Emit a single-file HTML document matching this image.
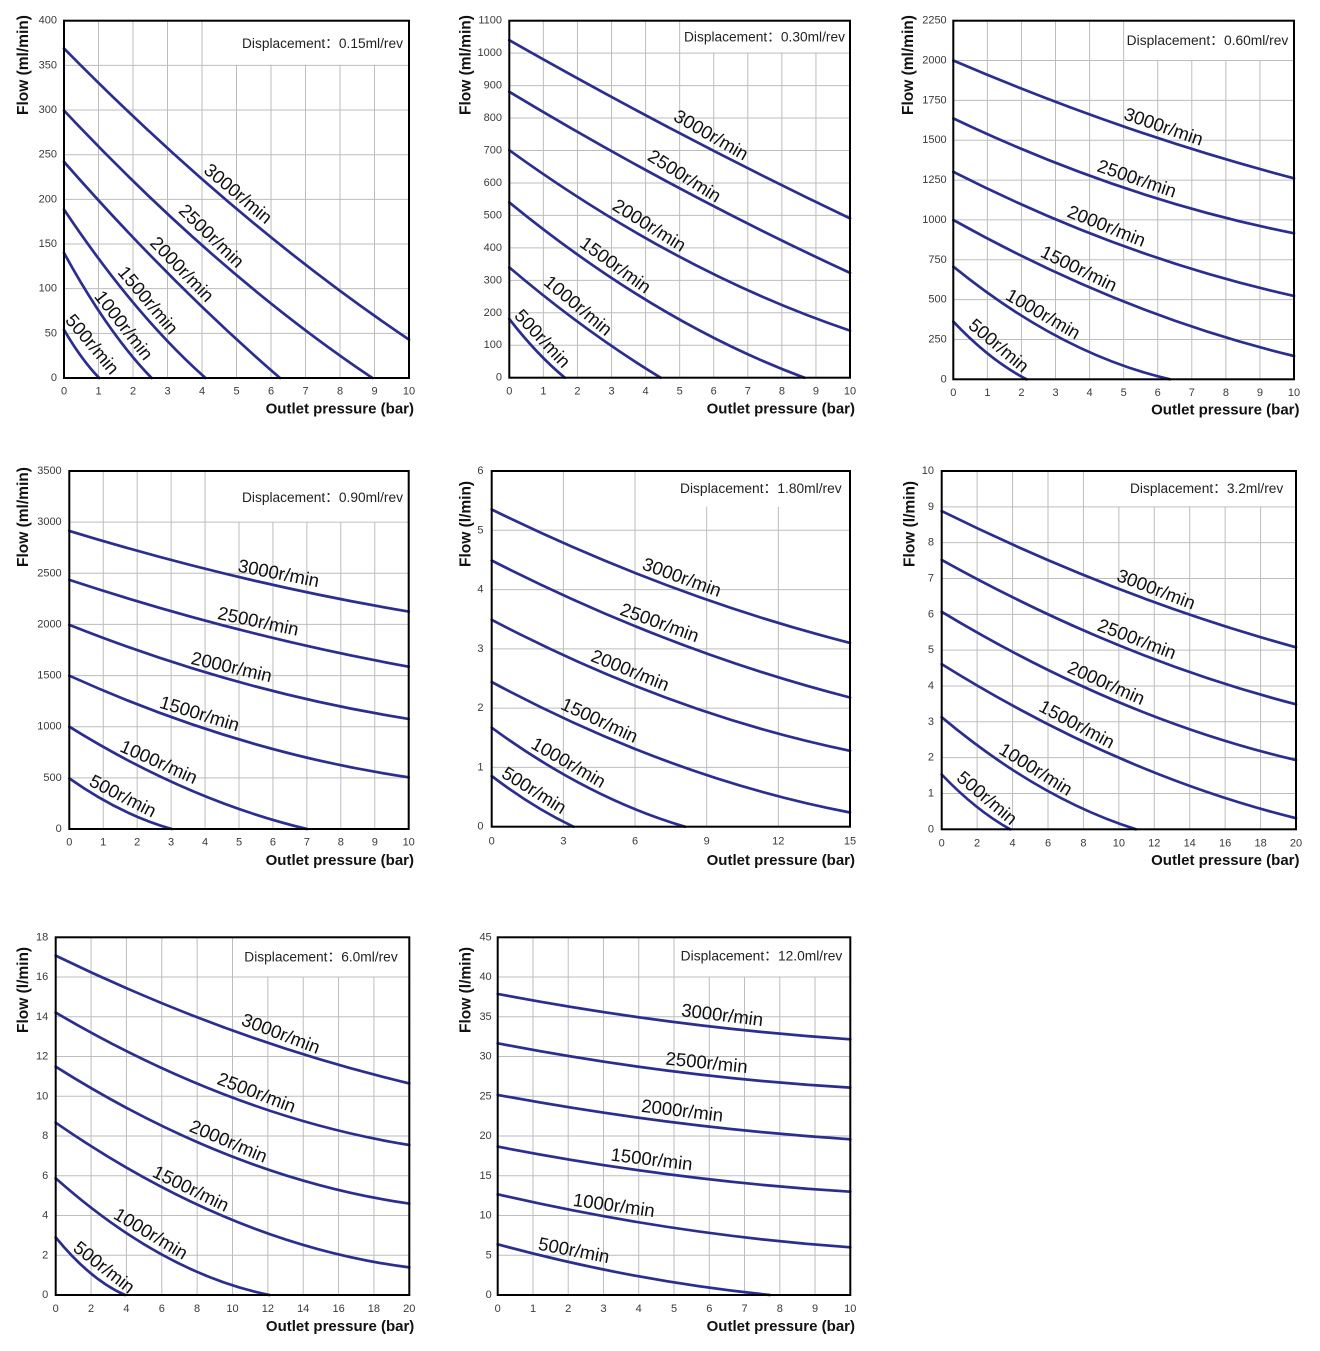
<!DOCTYPE html>
<html><head><meta charset="utf-8"><style>
html,body{margin:0;padding:0;background:#fff;}
svg{display:block;}
.g{fill:none;stroke:#bdbdbd;stroke-width:1;vector-effect:non-scaling-stroke;}
.c{fill:none;stroke:#2b2e8e;stroke-width:2.7;stroke-linecap:round;}
.b{fill:none;stroke:#000;stroke-width:2;}
.w{fill:#fff;stroke:none;}
.ty{font-family:"Liberation Sans",sans-serif;font-size:11px;fill:#3a3a3a;text-anchor:end;dominant-baseline:central;}
.tx{font-family:"Liberation Sans",sans-serif;font-size:11px;fill:#3a3a3a;text-anchor:middle;dominant-baseline:central;}
.xl{font-family:"Liberation Sans",sans-serif;font-size:15px;font-weight:bold;fill:#111;text-anchor:end;}
.yl{font-family:"Liberation Sans",sans-serif;font-size:15.5px;font-weight:bold;fill:#111;text-anchor:start;}
.d{font-family:"Liberation Sans","Noto Sans CJK SC",sans-serif;font-size:13.5px;fill:#222;text-anchor:end;}
.l{font-family:"Liberation Sans",sans-serif;font-size:18.5px;fill:#111;text-anchor:middle;dominant-baseline:central;}
</style></head><body>
<svg width="1320" height="1351" viewBox="0 0 1320 1351" xmlns="http://www.w3.org/2000/svg">
<rect width="1320" height="1351" fill="#fff"/>

<!-- ================= Chart 1 ================= -->
<g transform="translate(64,378) scale(34.5,-0.89325)">
<path class="g" d="M1 0V400M2 0V400M3 0V400M4 0V400M5 0V400M6 0V400M7 0V400M8 0V400M9 0V400"/>
<path class="g" d="M0 50H10M0 100H10M0 150H10M0 200H10M0 250H10M0 300H10M0 350H10"/>
</g>
<rect class="w" x="233" y="21.7" width="175.3" height="42.9"/>
<path class="c" d="M64 48.4Q236.5 223.6 409 339.6"/>
<path class="c" d="M64 110.5Q218.2 274.7 372.4 378"/>
<path class="c" d="M64 161.8Q172 284.9 280 378"/>
<path class="c" d="M64 209.5Q134.75 315.2 205.5 378"/>
<path class="c" d="M64 252.9Q107.8 332.9 151.6 378"/>
<path class="c" d="M64 329.8Q81.6 359.9 99.2 378"/>
<rect class="b" x="64" y="20.7" width="345" height="357.3"/>
<text class="ty" x="57" y="378">0</text><text class="ty" x="57" y="333.3">50</text><text class="ty" x="57" y="288.7">100</text><text class="ty" x="57" y="244">150</text><text class="ty" x="57" y="199.4">200</text><text class="ty" x="57" y="154.7">250</text><text class="ty" x="57" y="110">300</text><text class="ty" x="57" y="65.4">350</text><text class="ty" x="57" y="20.7">400</text>
<text class="tx" x="64" y="391.7">0</text><text class="tx" x="98.5" y="391.7">1</text><text class="tx" x="133" y="391.7">2</text><text class="tx" x="167.5" y="391.7">3</text><text class="tx" x="202" y="391.7">4</text><text class="tx" x="236.5" y="391.7">5</text><text class="tx" x="271" y="391.7">6</text><text class="tx" x="305.5" y="391.7">7</text><text class="tx" x="340" y="391.7">8</text><text class="tx" x="374.5" y="391.7">9</text><text class="tx" x="409" y="391.7">10</text>
<text class="xl" x="414" y="413.3">Outlet pressure (bar)</text>
<text class="yl" transform="translate(28,115) rotate(-90)">Flow (ml/min)</text>
<text class="d" x="403" y="48" textLength="161" lengthAdjust="spacingAndGlyphs">Displacement：0.15ml/rev</text>
<text class="l" transform="translate(238.3,193.3) rotate(40)">3000r/min</text>
<text class="l" transform="translate(211.7,235.7) rotate(44)">2500r/min</text>
<text class="l" transform="translate(182.3,269) rotate(46)">2000r/min</text>
<text class="l" transform="translate(148.3,300) rotate(50)">1500r/min</text>
<text class="l" transform="translate(124,325) rotate(52)">1000r/min</text>
<text class="l" transform="translate(92.5,344) rotate(50)">500r/min</text>

<!-- ================= Chart 2 ================= -->
<g transform="translate(509.3,377.7) scale(34.07,-0.32455)">
<path class="g" d="M1 0V1100M2 0V1100M3 0V1100M4 0V1100M5 0V1100M6 0V1100M7 0V1100M8 0V1100M9 0V1100"/>
<path class="g" d="M0 100H10M0 200H10M0 300H10M0 400H10M0 500H10M0 600H10M0 700H10M0 800H10M0 900H10M0 1000H10"/>
</g>
<rect class="w" x="682" y="21.7" width="167.3" height="30.8"/>
<path class="c" d="M509.3 40.2Q679.65 137.1 850 218.4"/>
<path class="c" d="M509.3 91.8Q679.65 194.35 850 272.9"/>
<path class="c" d="M509.3 150.2Q679.65 273.2 850 330.6"/>
<path class="c" d="M509.3 202.4Q656.8 322.85 804.3 377.7"/>
<path class="c" d="M509.3 267.4Q584.95 331.75 660.6 377.7"/>
<path class="c" d="M509.3 319Q537.05 354.75 564.8 377.7"/>
<rect class="b" x="509.3" y="20.7" width="340.7" height="357"/>
<text class="ty" x="502" y="377.7">0</text><text class="ty" x="502" y="345.2">100</text><text class="ty" x="502" y="312.8">200</text><text class="ty" x="502" y="280.3">300</text><text class="ty" x="502" y="247.9">400</text><text class="ty" x="502" y="215.4">500</text><text class="ty" x="502" y="183">600</text><text class="ty" x="502" y="150.5">700</text><text class="ty" x="502" y="118.1">800</text><text class="ty" x="502" y="85.6">900</text><text class="ty" x="502" y="53.2">1000</text><text class="ty" x="502" y="20.7">1100</text>
<text class="tx" x="509.3" y="391.7">0</text><text class="tx" x="543.4" y="391.7">1</text><text class="tx" x="577.4" y="391.7">2</text><text class="tx" x="611.5" y="391.7">3</text><text class="tx" x="645.6" y="391.7">4</text><text class="tx" x="679.7" y="391.7">5</text><text class="tx" x="713.7" y="391.7">6</text><text class="tx" x="747.8" y="391.7">7</text><text class="tx" x="781.9" y="391.7">8</text><text class="tx" x="815.9" y="391.7">9</text><text class="tx" x="850" y="391.7">10</text>
<text class="xl" x="855" y="413.3">Outlet pressure (bar)</text>
<text class="yl" transform="translate(470.5,115) rotate(-90)">Flow (ml/min)</text>
<text class="d" x="845" y="41.5" textLength="161" lengthAdjust="spacingAndGlyphs">Displacement：0.30ml/rev</text>
<text class="l" transform="translate(711.3,134.7) rotate(30)">3000r/min</text>
<text class="l" transform="translate(684.7,175.7) rotate(32)">2500r/min</text>
<text class="l" transform="translate(649.5,225) rotate(32)">2000r/min</text>
<text class="l" transform="translate(615.7,264.7) rotate(36)">1500r/min</text>
<text class="l" transform="translate(578.3,305.3) rotate(40)">1000r/min</text>
<text class="l" transform="translate(542.7,338.3) rotate(47)">500r/min</text>

<!-- ================= Chart 3 ================= -->
<g transform="translate(953.3,379.3) scale(34.07,-0.15938)">
<path class="g" d="M1 0V2250M2 0V2250M3 0V2250M4 0V2250M5 0V2250M6 0V2250M7 0V2250M8 0V2250M9 0V2250"/>
<path class="g" d="M0 250H10M0 500H10M0 750H10M0 1000H10M0 1250H10M0 1500H10M0 1750H10M0 2000H10"/>
</g>
<rect class="w" x="1125" y="21.7" width="168.3" height="38.3"/>
<path class="c" d="M953.3 60.5Q1123.65 133.6 1294 178.3"/>
<path class="c" d="M953.3 118.4Q1123.65 199.45 1294 233.3"/>
<path class="c" d="M953.3 171.8Q1123.65 258.25 1294 295.9"/>
<path class="c" d="M953.3 219.9Q1123.65 315.15 1294 356"/>
<path class="c" d="M953.3 266.6Q1061.65 354.55 1170 379.3"/>
<path class="c" d="M953.3 321.6Q989.95 360.45 1026.6 379.3"/>
<rect class="b" x="953.3" y="20.7" width="340.7" height="358.6"/>
<text class="ty" x="946.7" y="379.3">0</text><text class="ty" x="946.7" y="339.5">250</text><text class="ty" x="946.7" y="299.6">500</text><text class="ty" x="946.7" y="259.8">750</text><text class="ty" x="946.7" y="219.9">1000</text><text class="ty" x="946.7" y="180.1">1250</text><text class="ty" x="946.7" y="140.2">1500</text><text class="ty" x="946.7" y="100.4">1750</text><text class="ty" x="946.7" y="60.5">2000</text><text class="ty" x="946.7" y="20.7">2250</text>
<text class="tx" x="953.3" y="393">0</text><text class="tx" x="987.4" y="393">1</text><text class="tx" x="1021.4" y="393">2</text><text class="tx" x="1055.5" y="393">3</text><text class="tx" x="1089.6" y="393">4</text><text class="tx" x="1123.7" y="393">5</text><text class="tx" x="1157.7" y="393">6</text><text class="tx" x="1191.8" y="393">7</text><text class="tx" x="1225.9" y="393">8</text><text class="tx" x="1259.9" y="393">9</text><text class="tx" x="1294" y="393">10</text>
<text class="xl" x="1299.5" y="414.5">Outlet pressure (bar)</text>
<text class="yl" transform="translate(913,115) rotate(-90)">Flow (ml/min)</text>
<text class="d" x="1288.3" y="44.8" textLength="161.6" lengthAdjust="spacingAndGlyphs">Displacement：0.60ml/rev</text>
<text class="l" transform="translate(1163.7,126.3) rotate(19)">3000r/min</text>
<text class="l" transform="translate(1137,178.3) rotate(19)">2500r/min</text>
<text class="l" transform="translate(1106.7,225.7) rotate(22)">2000r/min</text>
<text class="l" transform="translate(1079,268.3) rotate(26)">1500r/min</text>
<text class="l" transform="translate(1043.3,313.7) rotate(30)">1000r/min</text>
<text class="l" transform="translate(999,345.3) rotate(40)">500r/min</text>

<!-- ================= Chart 4 ================= -->
<g transform="translate(69.3,829) scale(33.94,-0.102286)">
<path class="g" d="M1 0V3500M2 0V3500M3 0V3500M4 0V3500M5 0V3500M6 0V3500M7 0V3500M8 0V3500M9 0V3500"/>
<path class="g" d="M0 500H10M0 1000H10M0 1500H10M0 2000H10M0 2500H10M0 3000H10"/>
</g>
<rect class="w" x="237" y="472" width="170.7" height="49.6"/>
<path class="c" d="M69.3 530.9Q239 582.85 408.7 611.6"/>
<path class="c" d="M69.3 579.9Q239 635.7 408.7 666.7"/>
<path class="c" d="M69.3 624.9Q239 692.1 408.7 718.9"/>
<path class="c" d="M69.3 675.7Q239 752.3 408.7 777.3"/>
<path class="c" d="M69.3 726.7Q188.1 800.45 306.9 829"/>
<path class="c" d="M69.3 778.4Q120.55 814.5 171.8 829"/>
<rect class="b" x="69.3" y="471" width="339.4" height="358"/>
<text class="ty" x="61.7" y="829">0</text><text class="ty" x="61.7" y="777.9">500</text><text class="ty" x="61.7" y="726.7">1000</text><text class="ty" x="61.7" y="675.6">1500</text><text class="ty" x="61.7" y="624.4">2000</text><text class="ty" x="61.7" y="573.3">2500</text><text class="ty" x="61.7" y="522.1">3000</text><text class="ty" x="61.7" y="471">3500</text>
<text class="tx" x="69.3" y="842.7">0</text><text class="tx" x="103.2" y="842.7">1</text><text class="tx" x="137.2" y="842.7">2</text><text class="tx" x="171.1" y="842.7">3</text><text class="tx" x="205.1" y="842.7">4</text><text class="tx" x="239" y="842.7">5</text><text class="tx" x="272.9" y="842.7">6</text><text class="tx" x="306.9" y="842.7">7</text><text class="tx" x="340.8" y="842.7">8</text><text class="tx" x="374.8" y="842.7">9</text><text class="tx" x="408.7" y="842.7">10</text>
<text class="xl" x="414" y="865">Outlet pressure (bar)</text>
<text class="yl" transform="translate(28,567) rotate(-90)">Flow (ml/min)</text>
<text class="d" x="403" y="502" textLength="161" lengthAdjust="spacingAndGlyphs">Displacement：0.90ml/rev</text>
<text class="l" transform="translate(278.7,573) rotate(11)">3000r/min</text>
<text class="l" transform="translate(258.3,621) rotate(12)">2500r/min</text>
<text class="l" transform="translate(231.7,666.7) rotate(13)">2000r/min</text>
<text class="l" transform="translate(199.7,713.3) rotate(17)">1500r/min</text>
<text class="l" transform="translate(159,761.7) rotate(24)">1000r/min</text>
<text class="l" transform="translate(123,795.7) rotate(27)">500r/min</text>

<!-- ================= Chart 5 ================= -->
<g transform="translate(491.7,826.7) scale(23.887,-59.283)">
<path class="g" d="M3 0V6M6 0V6M9 0V6M12 0V6"/>
<path class="g" d="M0 1H15M0 2H15M0 3H15M0 4H15M0 5H15"/>
</g>
<rect class="w" x="672" y="472" width="177" height="34.7"/>
<path class="c" d="M491.7 509.5Q670.85 597.2 850 642.9"/>
<path class="c" d="M491.7 560.5Q670.85 651.6 850 697.5"/>
<path class="c" d="M491.7 619.8Q670.85 713.7 850 750.8"/>
<path class="c" d="M491.7 682Q670.85 778.05 850 812.5"/>
<path class="c" d="M491.7 727.7Q588.3 798.2 684.9 826.7"/>
<path class="c" d="M491.7 776Q532.55 807.15 573.4 826.7"/>
<rect class="b" x="491.7" y="471" width="358.3" height="355.7"/>
<text class="ty" x="483.5" y="826.7">0</text><text class="ty" x="483.5" y="767.4">1</text><text class="ty" x="483.5" y="708.1">2</text><text class="ty" x="483.5" y="648.8">3</text><text class="ty" x="483.5" y="589.6">4</text><text class="ty" x="483.5" y="530.3">5</text><text class="ty" x="483.5" y="471">6</text>
<text class="tx" x="491.7" y="841.7">0</text><text class="tx" x="563.4" y="841.7">3</text><text class="tx" x="635" y="841.7">6</text><text class="tx" x="706.7" y="841.7">9</text><text class="tx" x="778.3" y="841.7">12</text><text class="tx" x="850" y="841.7">15</text>
<text class="xl" x="855" y="865">Outlet pressure (bar)</text>
<text class="yl" transform="translate(470.5,567) rotate(-90)">Flow (l/min)</text>
<text class="d" x="841.7" y="493" textLength="161.7" lengthAdjust="spacingAndGlyphs">Displacement：1.80ml/rev</text>
<text class="l" transform="translate(682,577) rotate(20)">3000r/min</text>
<text class="l" transform="translate(659.7,622.3) rotate(20)">2500r/min</text>
<text class="l" transform="translate(630.3,670) rotate(22)">2000r/min</text>
<text class="l" transform="translate(599.7,720) rotate(25)">1500r/min</text>
<text class="l" transform="translate(568.7,762.3) rotate(30)">1000r/min</text>
<text class="l" transform="translate(534.3,790) rotate(32)">500r/min</text>

<!-- ================= Chart 6 ================= -->
<g transform="translate(941.7,829.3) scale(17.715,-35.83)">
<path class="g" d="M2 0V10M4 0V10M6 0V10M8 0V10M10 0V10M12 0V10M14 0V10M16 0V10M18 0V10"/>
<path class="g" d="M0 1H20M0 2H20M0 3H20M0 4H20M0 5H20M0 6H20M0 7H20M0 8H20M0 9H20"/>
</g>
<rect class="w" x="1112" y="472" width="183" height="34.3"/>
<path class="c" d="M941.7 511.1Q1118.85 598.6 1296 647.3"/>
<path class="c" d="M941.7 559.9Q1118.85 658.5 1296 704.3"/>
<path class="c" d="M941.7 611.8Q1118.85 718.55 1296 760.1"/>
<path class="c" d="M941.7 664.1Q1118.85 774.35 1296 818.2"/>
<path class="c" d="M941.7 717.2Q1038.85 798.65 1136 829.3"/>
<path class="c" d="M941.7 774.5Q975.9 810.3 1010.1 829.3"/>
<rect class="b" x="941.7" y="471" width="354.3" height="358.3"/>
<text class="ty" x="934" y="829.3">0</text><text class="ty" x="934" y="793.5">1</text><text class="ty" x="934" y="757.6">2</text><text class="ty" x="934" y="721.8">3</text><text class="ty" x="934" y="686">4</text><text class="ty" x="934" y="650.2">5</text><text class="ty" x="934" y="614.3">6</text><text class="ty" x="934" y="578.5">7</text><text class="ty" x="934" y="542.7">8</text><text class="ty" x="934" y="506.8">9</text><text class="ty" x="934" y="471">10</text>
<text class="tx" x="941.7" y="843.3">0</text><text class="tx" x="977.1" y="843.3">2</text><text class="tx" x="1012.6" y="843.3">4</text><text class="tx" x="1048" y="843.3">6</text><text class="tx" x="1083.4" y="843.3">8</text><text class="tx" x="1118.9" y="843.3">10</text><text class="tx" x="1154.3" y="843.3">12</text><text class="tx" x="1189.7" y="843.3">14</text><text class="tx" x="1225.1" y="843.3">16</text><text class="tx" x="1260.6" y="843.3">18</text><text class="tx" x="1296" y="843.3">20</text>
<text class="xl" x="1299.5" y="865">Outlet pressure (bar)</text>
<text class="yl" transform="translate(914.5,567) rotate(-90)">Flow (l/min)</text>
<text class="d" x="1283.3" y="493" textLength="153.3" lengthAdjust="spacingAndGlyphs">Displacement：3.2ml/rev</text>
<text class="l" transform="translate(1156.3,589) rotate(21)">3000r/min</text>
<text class="l" transform="translate(1137,638.7) rotate(21)">2500r/min</text>
<text class="l" transform="translate(1106.3,682.7) rotate(24)">2000r/min</text>
<text class="l" transform="translate(1077,724) rotate(28)">1500r/min</text>
<text class="l" transform="translate(1036,769) rotate(32)">1000r/min</text>
<text class="l" transform="translate(987.3,797.7) rotate(40)">500r/min</text>

<!-- ================= Chart 7 ================= -->
<g transform="translate(55.7,1295) scale(17.68,-19.873)">
<path class="g" d="M2 0V18M4 0V18M6 0V18M8 0V18M10 0V18M12 0V18M14 0V18M16 0V18M18 0V18"/>
<path class="g" d="M0 2H20M0 4H20M0 6H20M0 8H20M0 10H20M0 12H20M0 14H20M0 16H20"/>
</g>
<rect class="w" x="240" y="938.3" width="168.3" height="38.2"/>
<path class="c" d="M55.7 955.6Q232.5 1041.5 409.3 1083.4"/>
<path class="c" d="M55.7 1012.6Q232.5 1116.4 409.3 1145"/>
<path class="c" d="M55.7 1066.7Q232.5 1178.15 409.3 1203.6"/>
<path class="c" d="M55.7 1122.7Q232.5 1245 409.3 1267.4"/>
<path class="c" d="M55.7 1178.3Q162.5 1273.25 269.3 1295"/>
<path class="c" d="M55.7 1237.4Q90.35 1279.8 125 1295"/>
<rect class="b" x="55.7" y="937.3" width="353.6" height="357.7"/>
<text class="ty" x="48.3" y="1295">0</text><text class="ty" x="48.3" y="1255.3">2</text><text class="ty" x="48.3" y="1215.5">4</text><text class="ty" x="48.3" y="1175.8">6</text><text class="ty" x="48.3" y="1136">8</text><text class="ty" x="48.3" y="1096.3">10</text><text class="ty" x="48.3" y="1056.5">12</text><text class="ty" x="48.3" y="1016.8">14</text><text class="ty" x="48.3" y="977">16</text><text class="ty" x="48.3" y="937.3">18</text>
<text class="tx" x="55.7" y="1309">0</text><text class="tx" x="91.1" y="1309">2</text><text class="tx" x="126.4" y="1309">4</text><text class="tx" x="161.8" y="1309">6</text><text class="tx" x="197.1" y="1309">8</text><text class="tx" x="232.5" y="1309">10</text><text class="tx" x="267.9" y="1309">12</text><text class="tx" x="303.2" y="1309">14</text><text class="tx" x="338.6" y="1309">16</text><text class="tx" x="373.9" y="1309">18</text><text class="tx" x="409.3" y="1309">20</text>
<text class="xl" x="414.3" y="1331">Outlet pressure (bar)</text>
<text class="yl" transform="translate(28,1033) rotate(-90)">Flow (l/min)</text>
<text class="d" x="397.7" y="961.5" textLength="153.4" lengthAdjust="spacingAndGlyphs">Displacement：6.0ml/rev</text>
<text class="l" transform="translate(281,1033.3) rotate(21)">3000r/min</text>
<text class="l" transform="translate(256.7,1092.3) rotate(21)">2500r/min</text>
<text class="l" transform="translate(228.7,1141) rotate(23)">2000r/min</text>
<text class="l" transform="translate(191,1188.3) rotate(26)">1500r/min</text>
<text class="l" transform="translate(151,1233.3) rotate(31)">1000r/min</text>
<text class="l" transform="translate(104.3,1267) rotate(38)">500r/min</text>

<!-- ================= Chart 8 ================= -->
<g transform="translate(497.7,1295) scale(35.26,-7.949)">
<path class="g" d="M1 0V45M2 0V45M3 0V45M4 0V45M5 0V45M6 0V45M7 0V45M8 0V45M9 0V45"/>
<path class="g" d="M0 5H10M0 10H10M0 15H10M0 20H10M0 25H10M0 30H10M0 35H10M0 40H10"/>
</g>
<rect class="w" x="677" y="938.3" width="172.3" height="38.2"/>
<path class="c" d="M497.7 993.9Q674 1027.4 850.3 1039.3"/>
<path class="c" d="M497.7 1043.3Q674 1077.45 850.3 1087.6"/>
<path class="c" d="M497.7 1094.9Q674 1127.7 850.3 1139.3"/>
<path class="c" d="M497.7 1146.6Q674 1180.95 850.3 1191.7"/>
<path class="c" d="M497.7 1194.3Q674 1235 850.3 1247.3"/>
<path class="c" d="M497.7 1244.3Q633.8 1281.25 769.9 1295"/>
<rect class="b" x="497.7" y="937.3" width="352.6" height="357.7"/>
<text class="ty" x="491.7" y="1295">0</text><text class="ty" x="491.7" y="1255.3">5</text><text class="ty" x="491.7" y="1215.5">10</text><text class="ty" x="491.7" y="1175.8">15</text><text class="ty" x="491.7" y="1136">20</text><text class="ty" x="491.7" y="1096.3">25</text><text class="ty" x="491.7" y="1056.5">30</text><text class="ty" x="491.7" y="1016.8">35</text><text class="ty" x="491.7" y="977">40</text><text class="ty" x="491.7" y="937.3">45</text>
<text class="tx" x="497.7" y="1309">0</text><text class="tx" x="533" y="1309">1</text><text class="tx" x="568.2" y="1309">2</text><text class="tx" x="603.5" y="1309">3</text><text class="tx" x="638.7" y="1309">4</text><text class="tx" x="674" y="1309">5</text><text class="tx" x="709.3" y="1309">6</text><text class="tx" x="744.5" y="1309">7</text><text class="tx" x="779.8" y="1309">8</text><text class="tx" x="815" y="1309">9</text><text class="tx" x="850.3" y="1309">10</text>
<text class="xl" x="855" y="1331">Outlet pressure (bar)</text>
<text class="yl" transform="translate(470.5,1033) rotate(-90)">Flow (l/min)</text>
<text class="d" x="842.3" y="960.5" textLength="161.6" lengthAdjust="spacingAndGlyphs">Displacement：12.0ml/rev</text>
<text class="l" transform="translate(722.3,1014.7) rotate(7)">3000r/min</text>
<text class="l" transform="translate(706.7,1062.3) rotate(6)">2500r/min</text>
<text class="l" transform="translate(682.3,1110.3) rotate(7)">2000r/min</text>
<text class="l" transform="translate(651.7,1159) rotate(7)">1500r/min</text>
<text class="l" transform="translate(614,1205) rotate(8)">1000r/min</text>
<text class="l" transform="translate(574,1250) rotate(11)">500r/min</text>
</svg>
</body></html>
